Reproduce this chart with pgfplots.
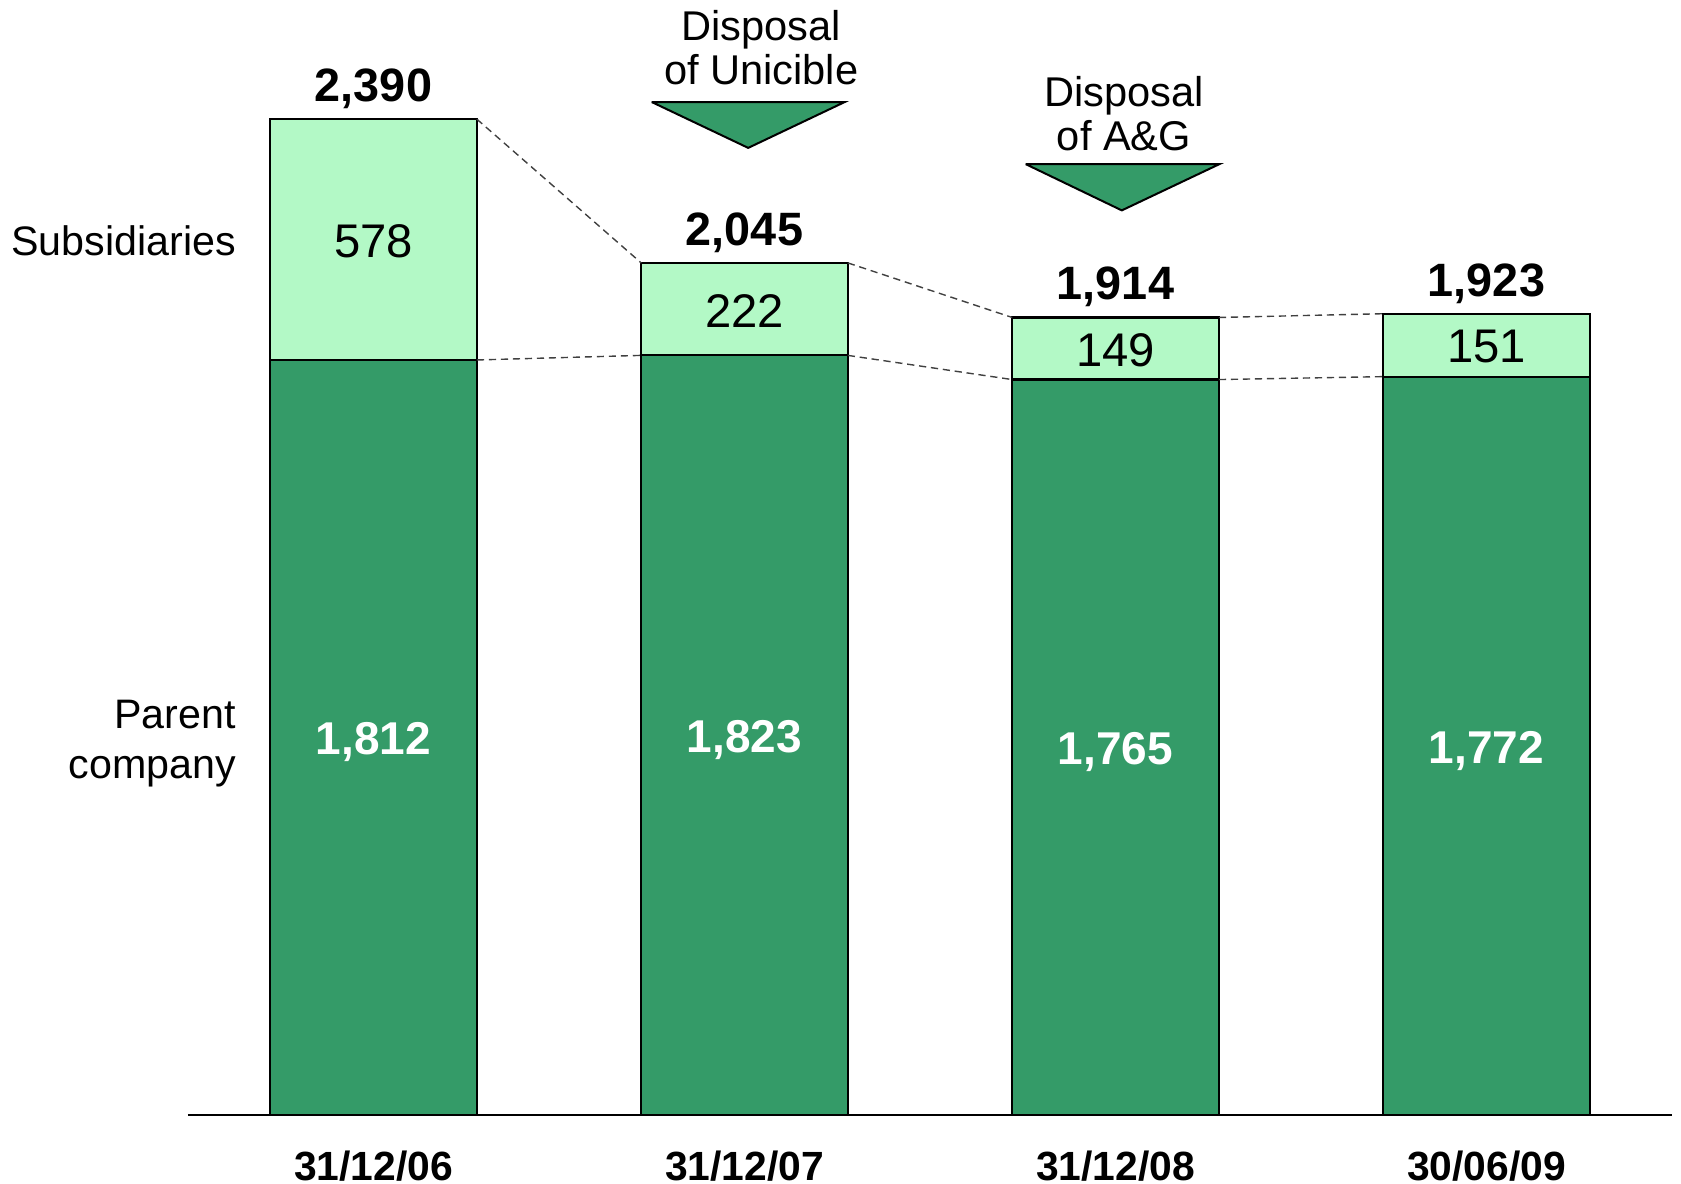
\documentclass[border=0pt]{standalone}
\usepackage{pgfplots}
\pgfplotsset{compat=1.18}
\usepackage{fontspec}
\setmainfont{Liberation Sans}
\definecolor{darkg}{RGB}{52,155,104}
\definecolor{lightg}{RGB}{179,249,198}
\begin{document}
\begin{tikzpicture}
\useasboundingbox (-47pt,-17.25pt) rectangle (373.25pt,278.75pt);
\begin{axis}[
 at={(0,0)}, anchor=south west,
 scale only axis, width=371pt, height=278.75pt,
 xmin=-0.5, xmax=3.5, ymin=0, ymax=2676,
 clip=false,
 axis y line=none, axis x line*=bottom,
 x axis line style={line width=0.6pt, -},
 xtick={0,1,2,3},
 xticklabels={31/12/06,31/12/07,31/12/08,30/06/09},
 major tick length=0pt,
 xticklabel style={font=\fontsize{10.2}{12}\selectfont\bfseries, anchor=base, yshift=-16.3pt},
 bar width=51.75pt,
]
% totals (light, subsidiaries on top)
\addplot[ybar, bar shift=0pt, fill=lightg, draw=black, line width=0.55pt]
  coordinates {(0,2390) (1,2045) (2,1914) (3,1923)};
% parent company
\addplot[ybar, bar shift=0pt, fill=darkg, draw=black, line width=0.55pt]
  coordinates {(0,1812) (1,1823) (2,1765) (3,1772)};
% connectors
\addplot[black!75, line width=0.35pt, dash pattern=on 1.8pt off 1.2pt] coordinates {(0.2785,2390) (0.7215,2045)};
\addplot[black!75, line width=0.35pt, dash pattern=on 1.8pt off 1.2pt] coordinates {(1.2785,2045) (1.7215,1914)};
\addplot[black!75, line width=0.35pt, dash pattern=on 1.8pt off 1.2pt] coordinates {(2.2785,1914) (2.7215,1923)};
\addplot[black!75, line width=0.35pt, dash pattern=on 1.8pt off 1.2pt] coordinates {(0.2785,1812) (0.7215,1823)};
\addplot[black!75, line width=0.35pt, dash pattern=on 1.8pt off 1.2pt] coordinates {(1.2785,1823) (1.7215,1765)};
\addplot[black!75, line width=0.35pt, dash pattern=on 1.8pt off 1.2pt] coordinates {(2.2785,1765) (2.7215,1772)};
% triangles
\addplot[fill=darkg, draw=black, line width=0.5pt, line join=miter] coordinates {(0.750,2431) (1.270,2431) (1.010,2321) (0.750,2431)};
\addplot[fill=darkg, draw=black, line width=0.5pt, line join=miter] coordinates {(1.758,2282) (2.280,2282) (2.017,2171) (1.758,2282)};
% totals labels
\node[font=\fontsize{11.7}{13}\selectfont\bfseries, yshift=7.6pt] at (axis cs:0,2390) {2,390};
\node[font=\fontsize{11.7}{13}\selectfont\bfseries, yshift=7.6pt] at (axis cs:1,2045) {2,045};
\node[font=\fontsize{11.7}{13}\selectfont\bfseries, yshift=7.6pt] at (axis cs:2,1914) {1,914};
\node[font=\fontsize{11.7}{13}\selectfont\bfseries, yshift=7.6pt] at (axis cs:3,1923) {1,923};
% subsidiaries labels
\node[font=\fontsize{11.8}{13}\selectfont] at (axis cs:0,2096) {578};
\node[font=\fontsize{11.8}{13}\selectfont] at (axis cs:1,1930) {222};
\node[font=\fontsize{11.8}{13}\selectfont] at (axis cs:2,1836) {149};
\node[font=\fontsize{11.8}{13}\selectfont] at (axis cs:3,1844) {151};
% parent labels
\node[font=\fontsize{11.5}{13}\selectfont\bfseries, text=white] at (axis cs:0,894) {1,812};
\node[font=\fontsize{11.5}{13}\selectfont\bfseries, text=white] at (axis cs:1,899) {1,823};
\node[font=\fontsize{11.5}{13}\selectfont\bfseries, text=white] at (axis cs:2,870) {1,765};
\node[font=\fontsize{11.5}{13}\selectfont\bfseries, text=white] at (axis cs:3,874) {1,772};
% side labels
\node[font=\fontsize{10.3}{12}\selectfont, anchor=east, inner sep=0pt] at (axis cs:-0.369,2097) {Subsidiaries};
\node[font=\fontsize{10.3}{12.6}\selectfont, anchor=east, align=right, inner sep=0pt] at (axis cs:-0.369,892) {Parent\\company};
% disposal texts
\node[font=\fontsize{10.4}{11}\selectfont, align=center] at (axis cs:1.045,2561) {Disposal\\of Unicible};
\node[font=\fontsize{10.4}{11}\selectfont, align=center] at (axis cs:2.023,2403) {Disposal\\of A\&G};
\end{axis}
\end{tikzpicture}
\end{document}
